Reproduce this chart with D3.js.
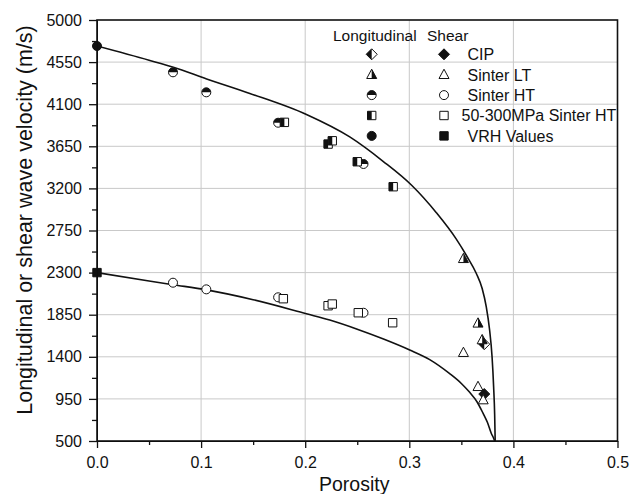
<!DOCTYPE html>
<html>
<head>
<meta charset="utf-8">
<script src="https://cdn.jsdelivr.net/npm/d3@7"></script>
<style>
  body { margin: 0; background: #fff; }
  text { font-family: "Liberation Sans", Arial, sans-serif; fill: #111; }
</style>
</head>
<body>
<svg id="porosity-plot" width="642" height="494"></svg>
<script>
// tick values
const porosityTicks = [0, 0.1, 0.2, 0.3, 0.4, 0.5];
const porosityMinor = [0.05, 0.15, 0.25, 0.35, 0.45];
const velocityTicks = [500, 950, 1400, 1850, 2300, 2750, 3200, 3650, 4100, 4550, 5000];
const velocityMinor = [725, 1175, 1625, 2075, 2525, 2975, 3425, 3875, 4325, 4775];

// legend
const legendLabels = ["CIP", "Sinter LT", "Sinter HT", "50-300MPa Sinter HT", "VRH Values"];

// longitudinal measurements [porosity, velocity]
const longCip = [[0.372, 1535]];
const longSinterLT = [[0.352, 2448], [0.366, 1758], [0.370, 1580]];
const longSinterHT = [[0.073, 4441], [0.105, 4227], [0.174, 3902], [0.256, 3461]];
const longPressed = [[0.180, 3906], [0.222, 3674], [0.226, 3709], [0.250, 3485], [0.2845, 3218]];
const longVrh = [[0, 4722]];

// shear measurements [porosity, velocity]
const shearCip = [[0.372, 1002]];
const shearSinterLT = [[0.352, 1444], [0.366, 1080], [0.371, 938]];
const shearSinterHT = [[0.073, 2192], [0.105, 2121], [0.174, 2036], [0.256, 1871]];
const shearPressed = [[0.179, 2021], [0.222, 1946], [0.226, 1964], [0.251, 1871], [0.284, 1764]];
const shearVrh = [[0, 2300]];

// model curves
const longCurveP = [0, 0.05, 0.0733, 0.1053, 0.1468, 0.2012, 0.2428, 0.2748, 0.302, 0.326, 0.345, 0.355, 0.3644, 0.37, 0.374, 0.377, 0.3795, 0.381, 0.382, 0.3825];
const longCurveV = [4722, 4570, 4495, 4370, 4215, 3990, 3750, 3490, 3236, 2940, 2660, 2480, 2290, 2130, 1930, 1700, 1400, 1080, 780, 500];
const shearCurveP = [0, 0.05, 0.0733, 0.1053, 0.15, 0.2012, 0.2236, 0.25, 0.2752, 0.3004, 0.3196, 0.3388, 0.35, 0.358, 0.365, 0.3707, 0.375, 0.3788, 0.381, 0.382];
const shearCurveV = [2300, 2210, 2170, 2115, 2010, 1860, 1793, 1695, 1590, 1473, 1370, 1220, 1115, 1020, 920, 800, 700, 580, 530, 500];

// set svg, plot size, margins
const svg = d3.select("#porosity-plot");
const margin = { top: 20, right: 24.5, bottom: 53, left: 97 };
const width = +svg.attr("width") - margin.left - margin.right;
const height = +svg.attr("height") - margin.top - margin.bottom;

const chart = svg.append("g")
  .attr("transform", `translate(${margin.left},${margin.top})`);

const x = d3.scaleLinear().domain([0, 0.5]).range([0, width]);
const y = d3.scaleLinear().domain([500, 5000]).range([height, 0]);

// grid
chart.append("g").selectAll("line")
  .data(porosityTicks.slice(1, -1))
  .join("line")
  .attr("x1", d => x(d)).attr("x2", d => x(d))
  .attr("y1", 0).attr("y2", height)
  .attr("stroke", "#c9c9c9").attr("stroke-width", 1);

chart.append("g").selectAll("line")
  .data(velocityTicks.slice(1, -1))
  .join("line")
  .attr("x1", 0).attr("x2", width)
  .attr("y1", d => y(d)).attr("y2", d => y(d))
  .attr("stroke", "#c9c9c9").attr("stroke-width", 1);

// curves
const clip = chart.append("clipPath").attr("id", "plot-clip")
  .append("rect").attr("width", width).attr("height", height);

const line = d3.line()
  .x(d => x(d[0]))
  .y(d => y(d[1]))
  .curve(d3.curveMonotoneX);

[[longCurveP, longCurveV], [shearCurveP, shearCurveV]].forEach(([ps, vs]) => {
  chart.append("path")
    .datum(ps.map((p, i) => [p, vs[i]]))
    .attr("clip-path", "url(#plot-clip)")
    .attr("fill", "none")
    .attr("stroke", "#111")
    .attr("stroke-width", 1.6)
    .attr("d", line);
});

// marker shapes
const shapePath = {
  diamond: "M0,-5.5L5.5,0L0,5.5L-5.5,0Z",
  triangle: "M0,-5.5L5,3.8L-5,3.8Z",
  circle: "M-4.5,0A4.5,4.5 0 1,1 4.5,0A4.5,4.5 0 1,1 -4.5,0Z",
  square: "M-4.2,-4.2H4.2V4.2H-4.2Z",
};
const halfPath = {
  diamond: "M0,-5.5L-5.5,0L0,5.5Z",
  triangle: "M0,-5.5L5,3.8L0,3.8Z",
  circle: "M-4.5,0A4.5,4.5 0 0,1 4.5,0Z",
  square: "M-4.2,-4.2H0V4.2H-4.2Z",
};

const drawMarker = (g, shape, fill) => {
  g.append("path")
    .attr("d", shapePath[shape])
    .attr("fill", fill === "full" ? "#111" : "#fff")
    .attr("stroke", "#111")
    .attr("stroke-width", 1);
  if (fill === "half") {
    g.append("path").attr("d", halfPath[shape]).attr("fill", "#111");
  }
};

const series = [
  { data: longCip, shape: "diamond", fill: "half" },
  { data: longSinterLT, shape: "triangle", fill: "half" },
  { data: longSinterHT, shape: "circle", fill: "half" },
  { data: longPressed, shape: "square", fill: "half" },
  { data: longVrh, shape: "circle", fill: "full" },
  { data: shearCip, shape: "diamond", fill: "full" },
  { data: shearSinterLT, shape: "triangle", fill: "open" },
  { data: shearSinterHT, shape: "circle", fill: "open" },
  { data: shearPressed, shape: "square", fill: "open" },
  { data: shearVrh, shape: "square", fill: "full" },
];

series.forEach(s => {
  chart.append("g").selectAll("g")
    .data(s.data)
    .join("g")
    .attr("transform", d => `translate(${x(d[0])},${y(d[1])})`)
    .each(function () { drawMarker(d3.select(this), s.shape, s.fill); });
});

// axes
const xAxis = chart.append("g")
  .attr("transform", `translate(0,${height})`)
  .call(d3.axisBottom(x).tickValues(porosityTicks).tickFormat(d3.format(".1f"))
    .tickSize(7).tickPadding(9).tickSizeOuter(0));
chart.append("g")
  .attr("transform", `translate(0,${height})`)
  .call(d3.axisBottom(x).tickValues(porosityMinor).tickFormat("").tickSize(4).tickSizeOuter(0))
  .select(".domain").remove();

const yAxis = chart.append("g")
  .call(d3.axisLeft(y).tickValues(velocityTicks).tickFormat(d3.format("d"))
    .tickSize(8).tickPadding(7).tickSizeOuter(0));
chart.append("g")
  .call(d3.axisLeft(y).tickValues(velocityMinor).tickFormat("").tickSize(5).tickSizeOuter(0))
  .select(".domain").remove();

chart.selectAll(".tick line").attr("stroke", "#111").attr("stroke-width", 1.3);
[xAxis, yAxis].forEach(a => {
  a.selectAll(".tick text").attr("font-size", 16).attr("fill", "#222")
    .style("font-family", '"Liberation Sans", Arial, sans-serif');
});

// frame
chart.append("rect")
  .attr("width", width).attr("height", height)
  .attr("fill", "none").attr("stroke", "#111").attr("stroke-width", 1.6);

// axis titles
svg.append("text")
  .attr("x", margin.left + width / 2 - 3)
  .attr("y", 491)
  .attr("text-anchor", "middle")
  .attr("font-size", 19.5)
  .text("Porosity");

svg.append("text")
  .attr("transform", `translate(32,${margin.top + 200}) rotate(-90)`)
  .attr("text-anchor", "middle")
  .attr("font-size", 21.5)
  .text("Longitudinal or shear wave velocity (m/s)");

// legend
const legend = svg.append("g");
legend.append("text").attr("x", 333).attr("y", 40.5).attr("font-size", 15.5).text("Longitudinal");
legend.append("text").attr("x", 427).attr("y", 40.5).attr("font-size", 15.5).text("Shear");

legendLabels.forEach((label, i) => {
  const cy = 54.3 + i * 20.4;
  drawMarker(legend.append("g").attr("transform", `translate(371.7,${cy})`),
    series[i].shape, series[i].fill);
  drawMarker(legend.append("g").attr("transform", `translate(444,${cy})`),
    series[i + 5].shape, series[i + 5].fill);
  legend.append("text")
    .attr("x", i === 3 ? 461.5 : 467.5)
    .attr("y", cy + 5.8)
    .attr("font-size", 16)
    .text(label);
});
</script>
</body>
</html>
